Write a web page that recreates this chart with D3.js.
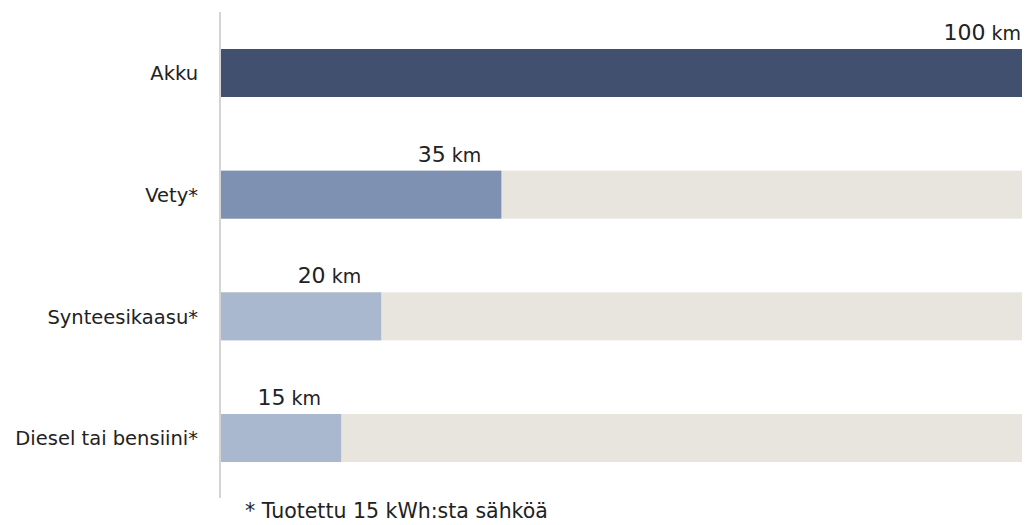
<!DOCTYPE html>
<html><head><meta charset="utf-8">
<script src="https://cdn.jsdelivr.net/npm/d3@7"></script>
<style>body{margin:0;background:#fff}svg{display:block}text{font-family:"DejaVu Sans",Verdana,sans-serif;fill:#222}</style>
</head><body><svg id="c" width="1026" height="525"></svg>
<script>
const categories = ["Akku", "Vety*", "Synteesikaasu*", "Diesel tai bensiini*"];
const values = [100, 35, 20, 15];
const maxValue = 100;
const unit = "km";
const footnote = "* Tuotettu 15 kWh:sta sähköä";
const barColors = ["#41506f", "#7f91b3", "#a9b7cf", "#a9b7cf"];
const trackColor = "#e8e5df";

const svg = d3.select("#c");
const x = d3.scaleLinear().domain([0, maxValue]).range([221, 1022]);
const y = d3.scaleBand().domain(categories).range([49, 462]).paddingInner(0.6055).paddingOuter(0);

// axis line
svg.append("line").attr("x1", 220).attr("x2", 220).attr("y1", 12).attr("y2", 498)
  .attr("stroke", "#d4d4d4").attr("stroke-width", 2);

// track
svg.selectAll("rect.track").data(categories).enter().append("rect")
  .attr("x", x(0)).attr("y", d => y(d)).attr("width", x(maxValue) - x(0)).attr("height", y.bandwidth())
  .attr("fill", trackColor);

// bars
svg.selectAll("rect.bar").data(values).enter().append("rect")
  .attr("x", x(0)).attr("y", (d, i) => y(categories[i])).attr("width", d => x(d) - x(0)).attr("height", y.bandwidth())
  .attr("fill", (d, i) => barColors[i]);

// category labels
svg.selectAll("text.cat").data(categories).enter().append("text")
  .attr("x", 198).attr("y", d => y(d) + y.bandwidth() / 2).attr("dy", "0.37em")
  .attr("text-anchor", "end").style("font-size", "19.5px").text(d => d);

// value labels
const vl = svg.selectAll("text.val").data(values).enter().append("text")
  .attr("x", d => d === maxValue ? x(d) - 1 : x(d) - 20)
  .attr("y", (d, i) => y(categories[i]) - 9)
  .attr("text-anchor", "end");
vl.append("tspan").style("font-size", "22px").text(d => d);
vl.append("tspan").style("font-size", "19px").text(" " + unit);

svg.append("text").attr("x", 245).attr("y", 518).style("font-size", "20.5px").text(footnote);
</script></body></html>
